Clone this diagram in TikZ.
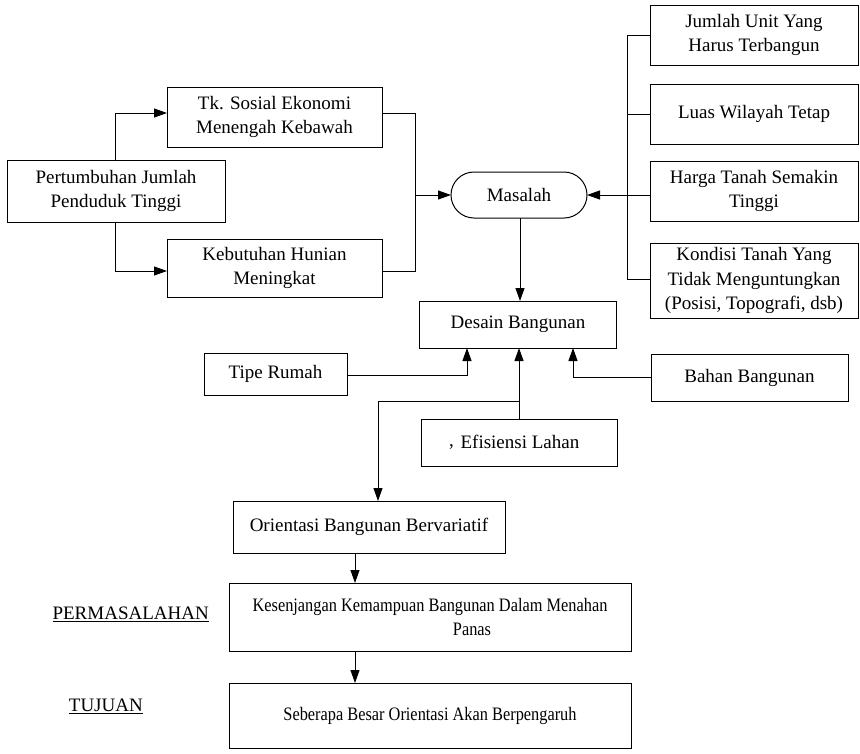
\documentclass[tikz,border=0pt]{standalone}
\usepackage{fontspec}
\setmainfont{Liberation Serif}
\usetikzlibrary{arrows.meta}
\begin{document}
\begin{tikzpicture}[x=1pt,y=-1pt,
  box/.style={draw, line width=1pt, inner sep=0pt, outer sep=0pt, align=center,
    font=\fontsize{19}{24.5}\selectfont},
  pill/.style={box, rounded corners=23pt},
  conn/.style={line width=1pt},
  arr/.style={conn, -{Triangle[length=13pt,width=9pt]}},
  lbl/.style={inner sep=0pt, font=\fontsize{19}{24}\selectfont}
]
\useasboundingbox (0,0) rectangle (860,753);

% left group
\node[box, minimum width=218pt, minimum height=62pt] (pert) at (116,191) {Pertumbuhan Jumlah\\Penduduk Tinggi};
\node[box, minimum width=215pt, minimum height=60pt] (tk) at (274.5,117) {Tk. Sosial Ekonomi\\Menengah Kebawah};
\node[box, minimum width=215pt, minimum height=58pt] (keb) at (274.5,268) {Kebutuhan Hunian\\Meningkat};

% centre
\node[pill, minimum width=136pt, minimum height=46pt] (mas) at (519,195) {Masalah};

% right group
\node[box, minimum width=208pt, minimum height=60pt] (r1) at (754,35) {Jumlah Unit Yang\\Harus Terbangun};
\node[box, minimum width=208pt, minimum height=60pt] (r2) at (754,114) {Luas Wilayah Tetap};
\node[box, minimum width=208pt, minimum height=60pt] (r3) at (754,191) {Harga Tanah Semakin\\Tinggi};
\node[box, minimum width=208pt, minimum height=75pt] (r4) at (754,280.5) {Kondisi Tanah Yang\\Tidak Menguntungkan\\(Posisi, Topografi, dsb)};

% design
\node[box, minimum width=197pt, minimum height=47pt] (des) at (518,324.5) {Desain Bangunan};
\node[box, minimum width=143pt, minimum height=42pt] (tipe) at (275.5,374) {Tipe Rumah};
\node[box, minimum width=197pt, minimum height=47pt] (bahan) at (749.5,377.5) {Bahan Bangunan};
\node[box, minimum width=196pt, minimum height=47pt] (efis) at (519,442.5) {\raisebox{0.2ex}{,}\hspace{0.35em}Efisiensi Lahan\hspace{0.5em}};

% lower chain
\node[box, minimum width=272pt, minimum height=52pt] (ori) at (369,527) {Orientasi Bangunan Bervariatif};
\node[box, minimum width=402pt, minimum height=68pt] (kes) at (430,617) {\scalebox{0.86}[1]{Kesenjangan Kemampuan Bangunan Dalam Menahan}\\\hspace*{84pt}\scalebox{0.86}[1]{Panas}};
\node[box, minimum width=402pt, minimum height=65pt] (seb) at (430,715.5) {\scalebox{0.86}[1]{Seberapa Besar Orientasi Akan Berpengaruh}};

% side labels
\node[lbl, anchor=east] (perm) at (209,614) {\underline{PERMASALAHAN}};
\node[lbl, anchor=east] (tuj) at (143,706) {\underline{TUJUAN}};

% coordinates
\coordinate (sL) at (115,113);
\coordinate (sR) at (415,195);
\coordinate (vR) at (627,195);
\coordinate (dT) at (467,375);
\coordinate (dB) at (573,377);
\coordinate (eB) at (519,401);
\coordinate (oB) at (378,401);

% left split
\draw[arr] (pert.north -| sL) |- (tk.west |- sL);
\draw[arr] (pert.south -| sL) |- (keb.west |- 0,271);
% merge
\draw[conn] (tk.east |- sL) -| (sR |- sL) -- (sR |- 0,271) -- (keb.east |- 0,271);
\draw[arr] (sR) -- (mas.west);

% right bracket
\draw[conn] (r1.west) -| (vR |- r1.west) -- (vR |- 0,279) -- (r4.west |- 0,279);
\draw[conn] (r2.west) -- (vR |- r2.west);
\draw[arr] (r3.west |- vR) -- (mas.east);

% to design
\draw[arr] (mas.south -| 520,0) -- (des.north -| 520,0);
\draw[arr] (tipe.east |- dT) -| (des.south -| dT);
\draw[arr] (bahan.west |- dB) -| (des.south -| dB);
\draw[arr] (efis.north) -- (des.south -| efis.north);
\draw[arr] (eB) -- (oB) -- (ori.north -| oB);

% lower chain
\draw[arr] (ori.south -| 355,0) -- (kes.north -| 355,0);
\draw[arr] (kes.south -| 355,0) -- (seb.north -| 355,0);
\end{tikzpicture}
\end{document}
